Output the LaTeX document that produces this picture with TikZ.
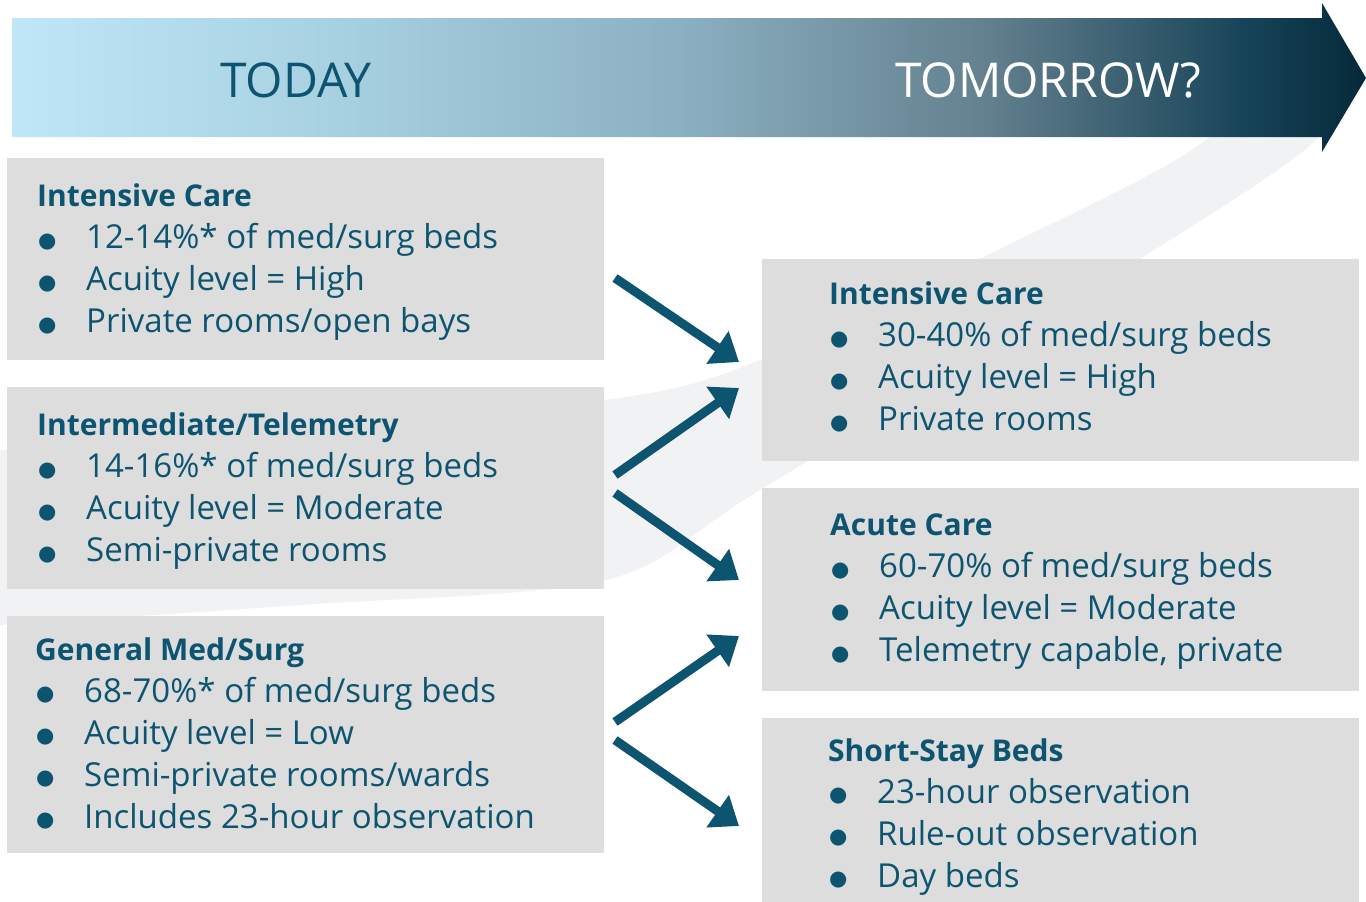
\documentclass[tikz,border=0pt]{standalone}
\usepackage{fontspec}
\setmainfont{Open Sans}
\newfontfamily\dotfont{DejaVu Sans}
\usetikzlibrary{arrows.meta,positioning}

\definecolor{deepteal}{HTML}{0D5471}
\definecolor{boxgray}{HTML}{DDDDDD}
\definecolor{swoosh}{HTML}{F1F2F4}
\definecolor{hdA}{HTML}{BFE7F7}
\definecolor{hdB}{HTML}{A6CFE0}
\definecolor{hdC}{HTML}{8AAFC0}
\definecolor{hdD}{HTML}{63808E}
\definecolor{hdE}{HTML}{2C5466}
\definecolor{hdF}{HTML}{17435A}
\definecolor{hdG}{HTML}{052A38}

% header gradient, path box maps to 25bp..75bp
\pgfdeclarehorizontalshading{timeline}{100bp}{color(0bp)=(hdA); color(25bp)=(hdA);
  color(37.5bp)=(hdB); color(50bp)=(hdC); color(61bp)=(hdD); color(68bp)=(hdE);
  color(70.5bp)=(hdF); color(75bp)=(hdG); color(100bp)=(hdG)}

\newcommand{\bitem}[1]{\makebox[49pt][l]{\hspace{1pt}\raisebox{1.5pt}{\dotfont\fontsize{21}{21}\selectfont ●}}#1}
\newcommand{\boxtitle}[1]{{\fontsize{30}{42}\selectfont\bfseries #1}}

\begin{document}
\begin{tikzpicture}[x=1pt, y=-1pt,
  box/.style={fill=boxgray, minimum width=597pt, anchor=north west, inner sep=0pt},
  txt/.style={anchor=north west, align=left, inner sep=0pt, text=deepteal,
    font=\fontsize{33}{42}\selectfont},
  flow/.style={draw=deepteal, line width=9pt, -{Triangle[length=26pt,width=38pt]}}]
  \useasboundingbox (0,0) rectangle (1366,902);

  % background swoosh
  \fill[swoosh] plot[smooth] coordinates {(0,450) (300,432) (606,400) (760,360) (1100,200) (1210,137) (1290,60)}
    -- plot[smooth] coordinates {(1335,60) (1319,137) (1143,257) (760,490) (606,580) (300,605) (0,625)} -- cycle;

  % Header arrow
  \path[shading=timeline] (12,18) -- (1322,18) -- (1322,3) -- (1366,78) -- (1322,152) -- (1322,137) -- (12,137) -- cycle;
  \node[text=deepteal, font=\fontsize{48}{48}\selectfont] (today) at (296,80) {TODAY};
  \node[text=white, font=\fontsize{48}{48}\selectfont] (tomorrow) at (1048,80) {TOMORROW?};

  % Today
  \node[box, minimum height=202pt] (icnow) at (7,158) {};
  \node[txt] (icnowtxt) at (37,184) {\boxtitle{Intensive Care}\\
    \bitem{12-14\%* of med/surg beds}\\
    \bitem{Acuity level = High}\\
    \bitem{Private rooms/open bays}};

  \node[box, minimum height=202pt] (telenow) at (7,387) {};
  \node[txt] (telenowtxt) at (37,413) {\boxtitle{Intermediate/Telemetry}\\
    \bitem{14-16\%* of med/surg beds}\\
    \bitem{Acuity level = Moderate}\\
    \bitem{Semi-private rooms}};

  \node[box, minimum height=237pt] (gennow) at (7,616) {};
  \node[txt] (gennowtxt) at (35,637) {\boxtitle{General Med/Surg}\\
    \bitem{68-70\%* of med/surg beds}\\
    \bitem{Acuity level = Low}\\
    \bitem{Semi-private rooms/wards}\\
    \bitem{Includes 23-hour observation}};

  % Tomorrow
  \node[box, minimum height=202pt] (icnext) at (762,259) {};
  \node[txt] (icnexttxt) at (829,282) {\boxtitle{Intensive Care}\\
    \bitem{30-40\% of med/surg beds}\\
    \bitem{Acuity level = High}\\
    \bitem{Private rooms}};

  \node[box, minimum height=203pt] (acutenext) at (762,488) {};
  \node[txt] (acutenexttxt) at (830,514) {\boxtitle{Acute Care}\\
    \bitem{60-70\% of med/surg beds}\\
    \bitem{Acuity level = Moderate}\\
    \bitem{Telemetry capable, private}};

  \node[box, minimum height=184pt] (shortnext) at (762,718) {};
  \node[txt] (shortnexttxt) at (828,738) {\boxtitle{Short-Stay Beds}\\
    \bitem{23-hour observation}\\
    \bitem{Rule-out observation}\\
    \bitem{Day beds}};

  % Arrow ends
  \coordinate (icout) at (615,278);
  \coordinate (teleup) at (615,475);
  \coordinate (teledown) at (615,493);
  \coordinate (genup) at (615,722);
  \coordinate (gendown) at (615,740);
  \coordinate (icin) at (739,362);
  \coordinate (icinlow) at (739,388);
  \coordinate (acutein) at (739,580);
  \coordinate (acuteinlow) at (739,636);
  \coordinate (shortin) at (739,826);

  % Arrows
  \draw[flow] (icout) -- (icin);
  \draw[flow] (teleup) -- (icinlow);
  \draw[flow] (teledown) -- (acutein);
  \draw[flow] (genup) -- (acuteinlow);
  \draw[flow] (gendown) -- (shortin);
\end{tikzpicture}
\end{document}
